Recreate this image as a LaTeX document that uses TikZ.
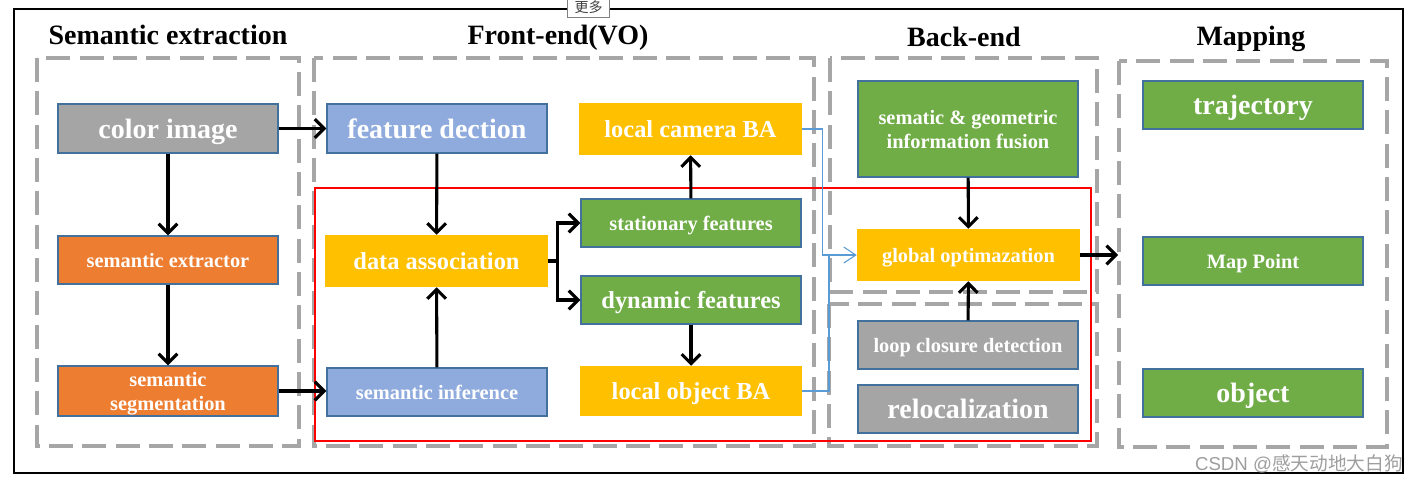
\documentclass[tikz,border=0pt]{standalone}
\usepackage{fontspec}
\setmainfont{Liberation Serif}
\newfontfamily\cjk{Noto Sans CJK SC}
\newfontfamily\wmlatin{Liberation Sans}
\usetikzlibrary{arrows.meta}
\definecolor{boxgray}{HTML}{A5A5A5}
\definecolor{bordblue}{HTML}{41719C}
\definecolor{boxorange}{HTML}{ED7D31}
\definecolor{boxblue}{HTML}{8FAADC}
\definecolor{boxyellow}{HTML}{FFC000}
\definecolor{boxgreen}{HTML}{70AD47}
\definecolor{dashgray}{HTML}{A6A6A6}
\definecolor{linkblue}{HTML}{5B9BD5}
\newcommand\fbig{\fontsize{21}{24}\selectfont\bfseries}
\newcommand\fmid{\fontsize{18.3}{21}\selectfont\bfseries}
\newcommand\fsml{\fontsize{15.3}{18}\selectfont\bfseries}
\tikzset{
  bw/.style={minimum width=#1*0.75pt},
  bh/.style={minimum height=#1*0.75pt},
  boxbase/.style={inner sep=0pt, align=center, text=white, bw=220, bh=48},
  bordered/.style={boxbase, draw=bordblue, line width=1.1pt},
  graybox/.style={bordered, fill=boxgray},
  orangebox/.style={bordered, fill=boxorange},
  bluebox/.style={bordered, fill=boxblue},
  greenbox/.style={bordered, fill=boxgreen},
  yellowbox/.style={boxbase, fill=boxyellow},
  tbig/.style={font=\fbig, text height=19.2pt, text depth=4.5pt},
  tmid/.style={font=\fmid, text height=16.8pt, text depth=4pt},
  tsml/.style={font=\fsml, text height=14.1pt, text depth=3.4pt},
  ttwo/.style={font=\fsml, text height=24pt, text depth=12.4pt},
  grp/.style={draw=dashgray, line width=2.6pt, dash pattern=on 18pt off 7pt},
  title/.style={font=\fbig, text=black, inner sep=0pt, anchor=base},
  arr/.style={draw=black, line width=2.3pt, -{Straight Barb[length=7pt,width=14pt]}},
  blu/.style={draw=linkblue, line width=0.8pt},
  bluarr/.style={blu, -{Straight Barb[length=9pt,width=12pt]}},
}
\begin{document}
\begin{tikzpicture}[x=0.75pt,y=-0.75pt]
\useasboundingbox (0,0) rectangle (1418,487);
\fill[white] (0,0) rectangle (1418,487);
% outer frame
\draw[line width=1.6pt] (14,9) rectangle (1403,473);
\node[draw=gray, fill=white, line width=0.6pt, text=black!75, font=\cjk\fontsize{10.5}{12}\selectfont, minimum width=32pt, minimum height=15.5pt, inner sep=0pt] (more) at (588.5,7.5) {更多};
% titles
\node[title] (t1) at (168,44) {Semantic extraction};
\node[title] (t2) at (558,44) {Front-end(VO)};
\node[title] (t3) at (964,46) {Back-end};
\node[title] (t4) at (1251,45) {Mapping};
% groups
\draw[grp] (37,58) rectangle (299,446);
\draw[grp] (314,58) rectangle (814,446);
\draw[grp] (830,58) rectangle (1097,292);
\draw[grp] (829,304) rectangle (1097,446);
\draw[grp] (1119,61) rectangle (1387,447);
% red frame
\draw[red, line width=1.1pt] (315,188) rectangle (1091,441);
% semantic extraction
\node[graybox, bh=49, tbig] (ci) at (168,128.5) {color image};
\node[orangebox, tsml] (se) at (168,260) {semantic extractor};
\node[orangebox, bh=50, ttwo] (ss) at (168,391) {\begin{tabular}{@{}c@{}}semantic\\segmentation\end{tabular}};
% front-end
\node[bluebox, bh=49, tbig] (fd) at (437,128.5) {feature dection};
\node[yellowbox, bw=223, bh=52, tmid] (da) at (436.5,261) {data association};
\node[bluebox, tsml] (si) at (437,392) {semantic inference};
\node[yellowbox, bw=223, bh=52, tmid] (lc) at (690.5,129) {local camera BA};
\node[greenbox, tsml] (sf) at (691,223) {stationary features};
\node[greenbox, tmid] (df) at (691,300) {dynamic features};
\node[yellowbox, bw=222, bh=50, tmid] (lo) at (691,391) {local object BA};
% back-end
\node[greenbox, bh=96, ttwo] (fu) at (968,129) {\begin{tabular}{@{}c@{}}sematic \& geometric\\information fusion\end{tabular}};
\node[yellowbox, bw=223, bh=52, tsml] (go) at (968.5,255) {global optimazation};
\node[graybox, tsml] (lcd) at (968,345) {loop closure detection};
\node[graybox, tbig] (rl) at (968,409) {relocalization};
% mapping
\node[greenbox, tbig] (tr) at (1253,105) {trajectory};
\node[greenbox, tsml] (mp) at (1253,261) {Map Point};
\node[greenbox, tbig] (ob) at (1253,393) {object};
\coordinate (mapin) at (1118,255);
% black connectors
\draw[arr] (ci) -- (fd);
\draw[arr] (ci) -- (se);
\draw[arr] (se) -- (ss);
\draw[arr] (ss.east) -- (si.west |- ss.east);
\draw[arr] (fd) -- (da);
\draw[arr] (si) -- (da);
\draw[arr] (da.east) -- ++(9,0) |- (sf.west);
\draw[arr] (da.east) -- ++(9,0) |- (df.west);
\draw[arr] (sf) -- (lc);
\draw[arr] (df) -- (lo);
\draw[arr] (fu) -- (go);
\draw[arr] (lcd) -- (go);
\draw[arr] (go.east) -- (mapin);
% blue connectors
\coordinate (bj) at (829,255);
\draw[bluarr] (lc.east) -- ++(20,0) |- (go.west);
\draw[blu] (lo.east) -| (bj);
% watermark
\node[anchor=base east, inner sep=0pt, text=black!38, font=\fontsize{14}{16}\selectfont] (wm) at (1403,470) {{\wmlatin CSDN @}{\cjk 感天动地大白狗}};
\end{tikzpicture}
\end{document}
